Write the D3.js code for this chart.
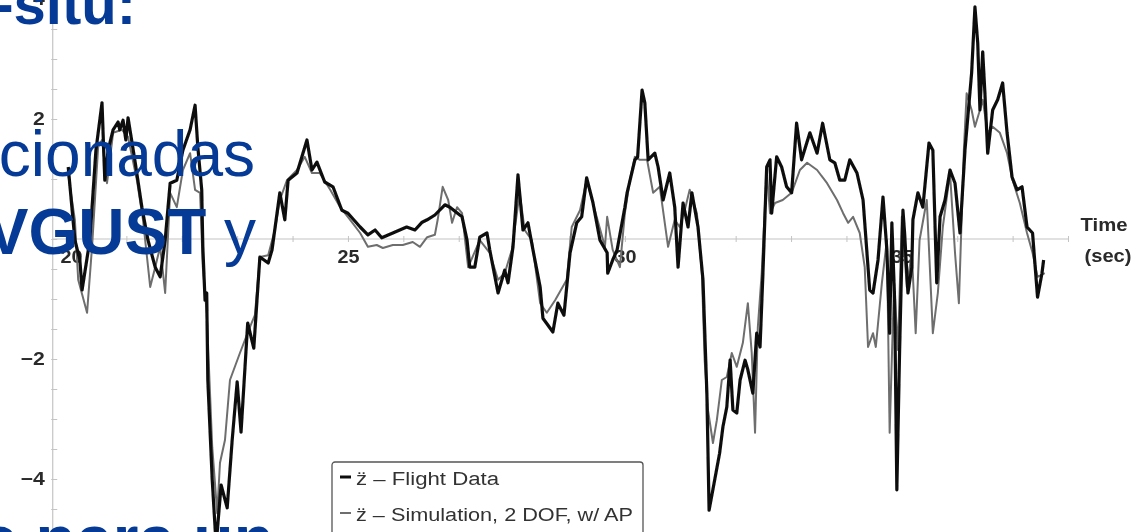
<!DOCTYPE html>
<html>
<head>
<meta charset="utf-8">
<script src="https://cdn.jsdelivr.net/npm/d3@7"></script>
<style>
  html, body { margin: 0; padding: 0; background: #fff; overflow: hidden; }
  svg { display: block; }
</style>
</head>
<body>
<svg id="chart" width="1142" height="532"></svg>
<script>
// Vertical acceleration, flight data (s, g-ish units)
const flightTime = [19.95,20.07,20.16,20.20,20.34,20.45,20.56,20.61,20.67,20.76,20.85,20.88,20.94,20.99,21.03,21.16,21.28,21.39,21.52,21.61,21.70,21.79,21.91,22.02,22.15,22.24,22.29,22.36,22.38,22.42,22.45,22.47,22.55,22.62,22.71,22.82,22.91,23.00,23.07,23.19,23.30,23.41,23.56,23.63,23.77,23.86,23.92,24.08,24.26,24.35,24.44,24.58,24.73,24.89,25.00,25.22,25.36,25.49,25.61,25.81,26.06,26.21,26.34,26.43,26.57,26.75,26.84,27.06,27.15,27.20,27.29,27.38,27.51,27.56,27.71,27.83,27.89,27.98,28.07,28.16,28.25,28.34,28.47,28.52,28.70,28.79,28.90,29.01,29.13,29.22,29.31,29.42,29.55,29.68,29.69,29.78,29.86,30.00,30.04,30.18,30.23,30.31,30.36,30.42,30.54,30.60,30.69,30.81,30.90,30.96,31.05,31.14,31.21,31.32,31.41,31.48,31.52,31.62,31.71,31.77,31.84,31.90,31.95,32.02,32.08,32.17,32.22,32.31,32.38,32.44,32.49,32.56,32.62,32.65,32.74,32.83,32.92,33.01,33.10,33.19,33.34,33.47,33.57,33.70,33.79,33.88,33.97,34.06,34.19,34.30,34.42,34.48,34.57,34.66,34.73,34.78,34.82,34.87,34.91,34.96,35.02,35.05,35.11,35.18,35.20,35.29,35.38,35.49,35.56,35.63,35.69,35.78,35.87,35.96,36.05,36.14,36.26,36.32,36.37,36.41,36.46,36.50,36.55,36.64,36.73,36.82,36.90,36.99,37.08,37.17,37.26,37.36,37.45,37.53,37.56];
const flightAccel = [1.20,-0.02,-0.35,-0.85,-0.02,1.48,2.27,0.98,1.48,1.82,1.95,1.82,1.98,1.65,2.02,1.27,0.53,-0.02,-0.47,-0.63,-0.02,0.93,0.98,1.48,1.82,2.23,1.53,0.82,-0.13,-1.02,-0.90,-2.35,-4.02,-5.10,-4.10,-4.48,-3.35,-2.38,-3.22,-1.40,-1.82,-0.30,-0.40,-0.18,0.77,0.32,0.98,1.10,1.65,1.15,1.28,0.95,0.87,0.48,0.43,0.20,0.07,0.15,0.02,0.10,0.20,0.15,0.28,0.32,0.40,0.57,0.53,0.37,-0.02,-0.47,-0.47,0.03,0.10,-0.18,-0.90,-0.52,-0.73,-0.13,1.07,0.15,0.27,-0.18,-0.80,-1.32,-1.55,-1.07,-1.27,-0.23,0.27,0.37,1.02,0.62,-0.02,-0.23,-0.57,-0.35,-0.18,0.53,0.77,1.32,1.37,2.48,2.27,1.32,1.43,1.20,0.65,1.10,0.53,-0.47,0.60,0.20,0.77,0.20,-0.68,-2.57,-4.52,-4.02,-3.57,-3.13,-2.80,-2.02,-2.85,-2.90,-2.35,-2.02,-2.18,-2.57,-1.57,-1.80,-0.63,1.20,1.32,0.43,1.37,1.20,0.87,0.77,1.93,1.32,1.77,1.43,1.93,1.32,1.27,0.98,0.98,1.32,1.10,0.65,-0.85,-0.90,-0.35,0.70,-0.18,-1.57,0.27,-1.02,-4.18,-1.85,0.48,0.10,-0.90,-0.47,0.32,0.77,0.53,1.60,1.48,-0.73,0.37,0.65,1.15,0.93,0.10,1.48,2.77,3.87,3.27,2.15,3.12,2.43,1.43,2.15,2.32,2.60,1.77,1.03,0.82,0.87,0.20,0.10,-0.97,-0.57,-0.35];

// Simulation, 2 DOF with autopilot
const simTime = [19.95,20.07,20.13,20.29,20.38,20.49,20.56,20.65,20.76,20.92,21.03,21.19,21.30,21.43,21.52,21.61,21.70,21.79,21.91,22.02,22.15,22.24,22.33,22.38,22.45,22.55,22.64,22.69,22.78,22.87,23.05,23.23,23.32,23.41,23.56,23.68,23.77,23.90,24.08,24.22,24.35,24.49,24.68,24.86,25.04,25.22,25.36,25.52,25.63,25.81,25.99,26.17,26.30,26.43,26.57,26.62,26.71,26.81,26.88,26.97,27.06,27.17,27.38,27.56,27.71,27.83,27.96,28.10,28.19,28.32,28.47,28.59,28.74,28.95,29.04,29.19,29.31,29.49,29.64,29.68,29.78,29.91,30.00,30.09,30.18,30.27,30.40,30.51,30.63,30.78,30.90,30.99,31.08,31.17,31.30,31.39,31.44,31.50,31.59,31.66,31.75,31.84,31.93,32.02,32.13,32.22,32.29,32.35,32.40,32.47,32.56,32.62,32.71,32.85,33.01,33.16,33.29,33.47,33.65,33.83,33.94,34.03,34.12,34.24,34.33,34.39,34.48,34.53,34.64,34.73,34.78,34.86,34.93,35.00,35.09,35.18,35.25,35.32,35.45,35.56,35.65,35.74,35.87,35.96,36.03,36.12,36.17,36.26,36.32,36.41,36.46,36.55,36.64,36.77,36.90,37.00,37.13,37.26,37.36,37.45,37.58];
const simAccel = [1.07,0.32,-0.68,-1.23,-0.13,1.53,1.65,0.93,1.77,1.82,1.70,0.98,0.32,-0.80,-0.47,-0.13,-0.90,0.77,0.53,1.15,1.43,0.82,0.77,-0.47,-1.23,-3.47,-4.57,-3.73,-3.35,-2.35,-1.90,-1.47,-1.27,-0.30,-0.27,0.15,0.65,0.98,1.15,1.37,1.10,1.10,0.82,0.53,0.32,0.10,-0.13,-0.10,-0.15,-0.10,-0.10,-0.05,-0.13,0.03,0.07,0.32,0.87,0.65,0.27,0.53,0.43,-0.47,-0.02,-0.23,-0.68,-0.57,-0.18,0.77,0.15,-0.02,-1.07,-1.23,-1.02,-0.68,0.20,0.48,0.98,0.37,-0.13,0.37,-0.18,-0.47,0.43,0.98,1.37,1.32,1.32,0.77,0.87,-0.13,0.32,0.20,0.48,0.82,0.43,-0.57,-2.02,-2.85,-3.40,-3.02,-2.35,-2.30,-1.90,-2.13,-1.73,-1.07,-1.90,-3.23,-1.47,-0.57,1.15,0.43,0.60,0.65,0.77,1.15,1.27,1.15,0.93,0.65,0.43,0.27,0.37,0.10,-0.47,-1.80,-1.57,-1.80,-0.73,-0.02,-3.23,-0.73,-1.85,0.37,-0.80,-0.23,-1.57,-0.02,0.65,-1.57,-0.90,0.20,1.10,-0.23,-1.07,1.48,2.43,2.15,1.87,2.15,2.32,1.77,1.87,1.77,1.43,0.98,0.60,0.10,-0.23,-0.63,-0.57];

const yTickLabels = [4, 2, -2, -4];
const xTickLabels = [20, 25, 30, 35];
const legendLabels = ["z\u0308 \u2013 Flight Data", "z\u0308 \u2013 Simulation, 2 DOF, w/ AP"];
const slideLines = [
  { text: "in-situ:", weight: "bold", size: 58, endX: 136, baseline: 24 },
  { text: "relacionadas", weight: "normal", size: 64, endX: 255, baseline: 176 },
  { text: "VGUST", weight: "bold", tail: " y", size: 64, endX: 256, baseline: 254 },
  { text: "s para un", weight: "bold", size: 66, endX: 274, baseline: 562 }
];

const svg = d3.select("#chart");
const x = d3.scaleLinear().domain([20, 38]).range([71, 1068]);
const y = d3.scaleLinear().domain([-4, 4]).range([479, -1]);

const plot = svg.append("g");
// the figure itself is a soft scan
const defs = svg.append("defs");
defs.append("filter").attr("id", "soft")
  .append("feGaussianBlur").attr("stdDeviation", 0.55);
plot.attr("filter", "url(#soft)");

const axisColor = "#c4c4c4";
const labelColor = "#2a2a2a";
const chartFont = "'Liberation Sans', Arial, Helvetica, sans-serif";
// the figure's lettering is a little wider than the font
const widen = 1.18;

// vertical axis line across the full height
plot.append("line")
  .attr("x1", x(19.67)).attr("x2", x(19.67))
  .attr("y1", y(4.1)).attr("y2", y(-5.0))
  .attr("stroke", axisColor).attr("stroke-width", 1.2);

// y ticks every 0.5
const yAxis = d3.axisLeft(y)
  .tickValues(d3.range(-4.5, 4.01, 0.5))
  .tickSize(3)
  .tickPadding(5)
  .tickFormat(d => yTickLabels.includes(d) ? d3.format("d")(d).replace("-", "\u2212") : "");
const gy = plot.append("g")
  .attr("transform", `translate(${x(19.67) + 1.5},0)`)
  .call(yAxis);
gy.select(".domain").remove();
gy.selectAll(".tick line").attr("stroke", axisColor).attr("x2", -3).attr("x1", 3);
gy.selectAll(".tick text")
  .attr("fill", labelColor)
  .attr("font-family", chartFont)
  .attr("font-weight", "bold")
  .attr("font-size", 18)
  .attr("transform", `scale(${widen},1)`);

// zero line with one-second ticks
const xAxis = d3.axisBottom(x)
  .tickValues(d3.range(20, 38.01, 1))
  .tickSize(3)
  .tickPadding(8)
  .tickFormat(d => xTickLabels.includes(d) ? d : "");
const gx = plot.append("g")
  .attr("transform", `translate(0,${y(0)})`)
  .call(xAxis);
gx.select(".domain")
  .attr("d", `M${x(19.67)},0H${x(38)}`)
  .attr("stroke", axisColor).attr("stroke-width", 1.2);
gx.selectAll(".tick line").attr("stroke", axisColor).attr("y1", -3).attr("y2", 3);
gx.selectAll(".tick text")
  .attr("fill", labelColor)
  .attr("font-family", chartFont)
  .attr("font-weight", "bold")
  .attr("font-size", 18)
  .attr("transform", "scale(1.1,1)");

// axis title
const titleRows = [{ s: "Time", cx: x(38) + 36, by: y(0) - 8 }, { s: "(sec)", cx: x(38) + 40, by: y(0) + 23 }];
titleRows.forEach(r => {
  plot.append("text")
    .attr("x", r.cx).attr("y", r.by)
    .attr("text-anchor", "middle")
    .attr("font-family", chartFont)
    .attr("font-weight", "bold")
    .attr("font-size", 19)
    .attr("fill", labelColor)
    .attr("textLength", 47)
    .attr("lengthAdjust", "spacingAndGlyphs")
    .text(r.s);
});

// series
const line = d3.line().x(d => x(d[0])).y(d => y(d[1]));
plot.append("path")
  .datum(d3.zip(simTime, simAccel))
  .attr("d", line)
  .attr("fill", "none")
  .attr("stroke", "#6e6e6e")
  .attr("stroke-width", 2)
  .attr("stroke-linejoin", "round");
plot.append("path")
  .datum(d3.zip(flightTime, flightAccel))
  .attr("d", line)
  .attr("fill", "none")
  .attr("stroke", "#0d0d0d")
  .attr("stroke-width", 3.2)
  .attr("stroke-linejoin", "round");

// legend
const legend = plot.append("g").attr("transform", "translate(332,462)");
legend.append("rect")
  .attr("x", 0).attr("y", 0).attr("width", 311).attr("height", 80)
  .attr("rx", 3)
  .attr("fill", "#fff").attr("stroke", "#555").attr("stroke-width", 1.3);
const legendStyles = [{ color: "#0d0d0d", w: 3 }, { color: "#6e6e6e", w: 2 }];
const legendWidths = [143, 277];
legendLabels.forEach((lab, i) => {
  const cy = 16 + i * 36;
  legend.append("line")
    .attr("x1", 8).attr("x2", 19).attr("y1", cy - 1).attr("y2", cy - 1)
    .attr("stroke", legendStyles[i].color).attr("stroke-width", legendStyles[i].w);
  legend.append("text")
    .attr("x", 24).attr("y", cy + 7)
    .attr("font-family", chartFont)
    .attr("font-size", 18)
    .attr("fill", "#333")
    .attr("textLength", legendWidths[i])
    .attr("lengthAdjust", "spacingAndGlyphs")
    .text(lab);
});

// slide text laid over the figure
const slideBlue = "#053b96";
const slideFont = "'Liberation Sans', Arial, Helvetica, sans-serif";
slideLines.forEach(ln => {
  const t = svg.append("text")
    .attr("x", ln.endX).attr("y", ln.baseline)
    .attr("text-anchor", "end")
    .attr("font-family", slideFont)
    .attr("font-size", ln.size)
    .attr("fill", slideBlue);
  t.append("tspan").attr("font-weight", ln.weight).text(ln.text);
  if (ln.tail) t.append("tspan").attr("font-weight", "normal").text(ln.tail);
});
</script>
</body>
</html>
